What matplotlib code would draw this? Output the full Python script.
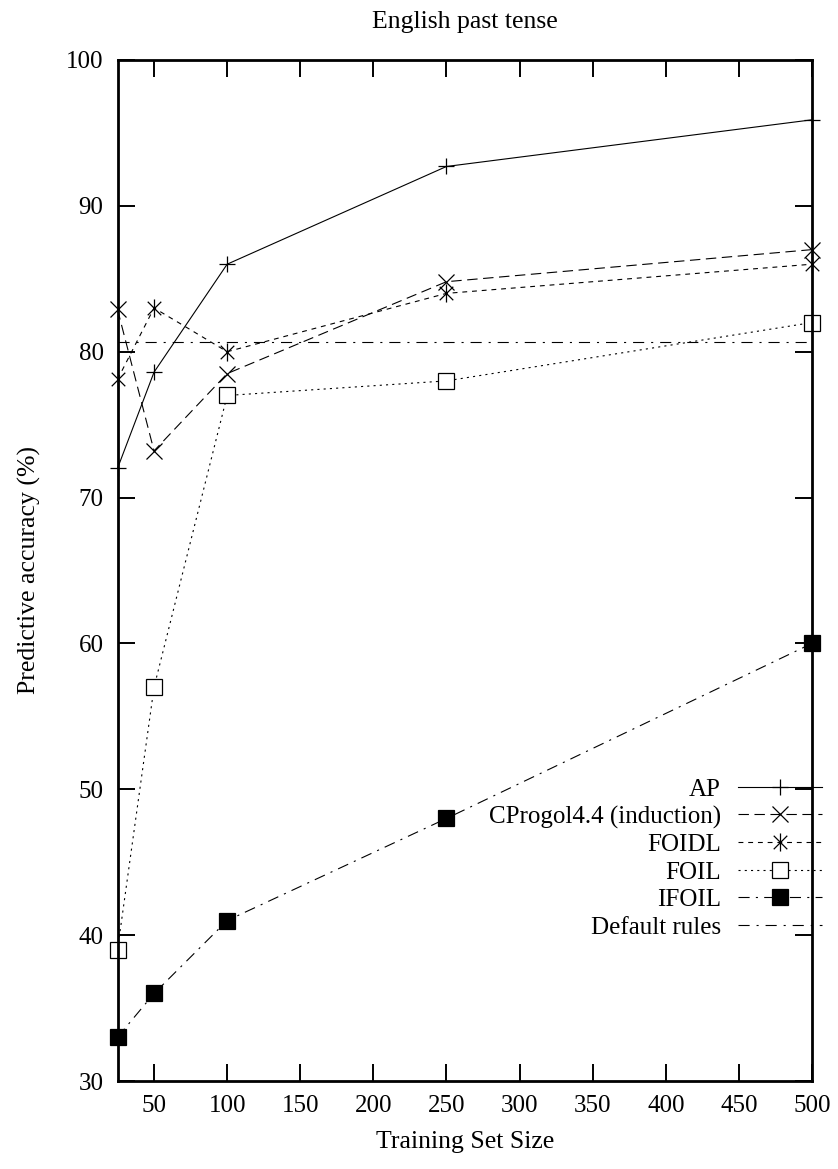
import matplotlib
matplotlib.use("Agg")
import matplotlib.pyplot as plt
from matplotlib.path import Path

plt.rcParams['font.family'] = ['Liberation Serif', 'DejaVu Serif']
plt.rcParams['lines.scale_dashes'] = False

# ---- data ----
train_sizes = [25, 50, 100, 250, 500]
ap = [72.0, 78.6, 86.0, 92.7, 95.9]
cprogol = [82.9, 73.2, 78.5, 84.8, 87.0]
foidl = [78.1, 83.0, 80.0, 84.0, 86.0]
foil = [39.0, 57.0, 77.0, 78.0, 82.0]
ifoil = [33.0, 36.0, 41.0, 48.0, 60.0]
default_rules = [80.7, 80.7, 80.7, 80.7, 80.7]

labels = ["AP", "CProgol4.4 (induction)", "FOIDL", "FOIL", "IFOIL", "Default rules"]
x_ticks = [50, 100, 150, 200, 250, 300, 350, 400, 450, 500]
y_ticks = [30, 40, 50, 60, 70, 80, 90, 100]

W, H = 838, 1169
fig = plt.figure(figsize=(W / 100, H / 100), dpi=100)
L, R, T, B = 117.5, 812, 60, 1081
ax = fig.add_axes([L / W, 1 - B / H, (R - L) / W, (B - T) / H])

star = Path([(0, -1), (0, 1), (-0.75, -0.75), (0.75, 0.75), (-0.75, 0.75), (0.75, -0.75)],
            [Path.MOVETO, Path.LINETO, Path.MOVETO, Path.LINETO, Path.MOVETO, Path.LINETO])

lw = 0.8
ax.plot(train_sizes, ap, color='black', lw=lw, ls='-', marker='+', ms=11, mew=0.9,
        clip_on=False, label=labels[0])
ax.plot(train_sizes, cprogol, color='black', lw=lw, ls=(0, (7.5, 4)), marker='x', ms=11, mew=0.9,
        clip_on=False, label=labels[1])
ax.plot(train_sizes, foidl, color='black', lw=lw, ls=(0, (3.5, 3.5)), marker=star, ms=13, mew=0.9,
        clip_on=False, label=labels[2])
ax.plot(train_sizes, foil, color='black', lw=lw, ls=(0, (1.5, 3)), marker='s', ms=12, mew=0.9,
        mfc='white', mec='black', clip_on=False, label=labels[3])
ax.plot(train_sizes, ifoil, color='black', lw=lw, ls=(0, (8, 4.5, 1.5, 4.5)), marker='s', ms=12, mew=0.9,
        mfc='black', mec='black', clip_on=False, label=labels[4])
ax.plot(train_sizes, default_rules, color='black', lw=lw, ls=(0, (8, 5, 1.5, 5)),
        clip_on=False, label=labels[5])

ax.set_xlim(25, 500)
ax.set_ylim(30, 100)
ax.set_xticks(x_ticks)
ax.set_yticks(y_ticks)
ax.tick_params(direction='in', length=12, width=1.4, top=True, right=True,
               labelsize=18, pad=10)
for s in ax.spines.values():
    s.set_linewidth(2.0)

ax.set_title("English past tense", fontsize=18.5, pad=23)
ax.set_xlabel("Training Set Size", fontsize=18.5, labelpad=10)
ax.set_ylabel("Predictive accuracy (%)", fontsize=18.5, labelpad=18)

leg = ax.legend(loc='upper right', bbox_to_anchor=(822 / W, 1 - 778 / H),
                bbox_transform=fig.transFigure, frameon=False, markerfirst=False,
                fontsize=18, handlelength=3.35, handletextpad=0.7, labelspacing=0.2,
                borderpad=0, borderaxespad=0)

fig.savefig("out.png", dpi=100)
